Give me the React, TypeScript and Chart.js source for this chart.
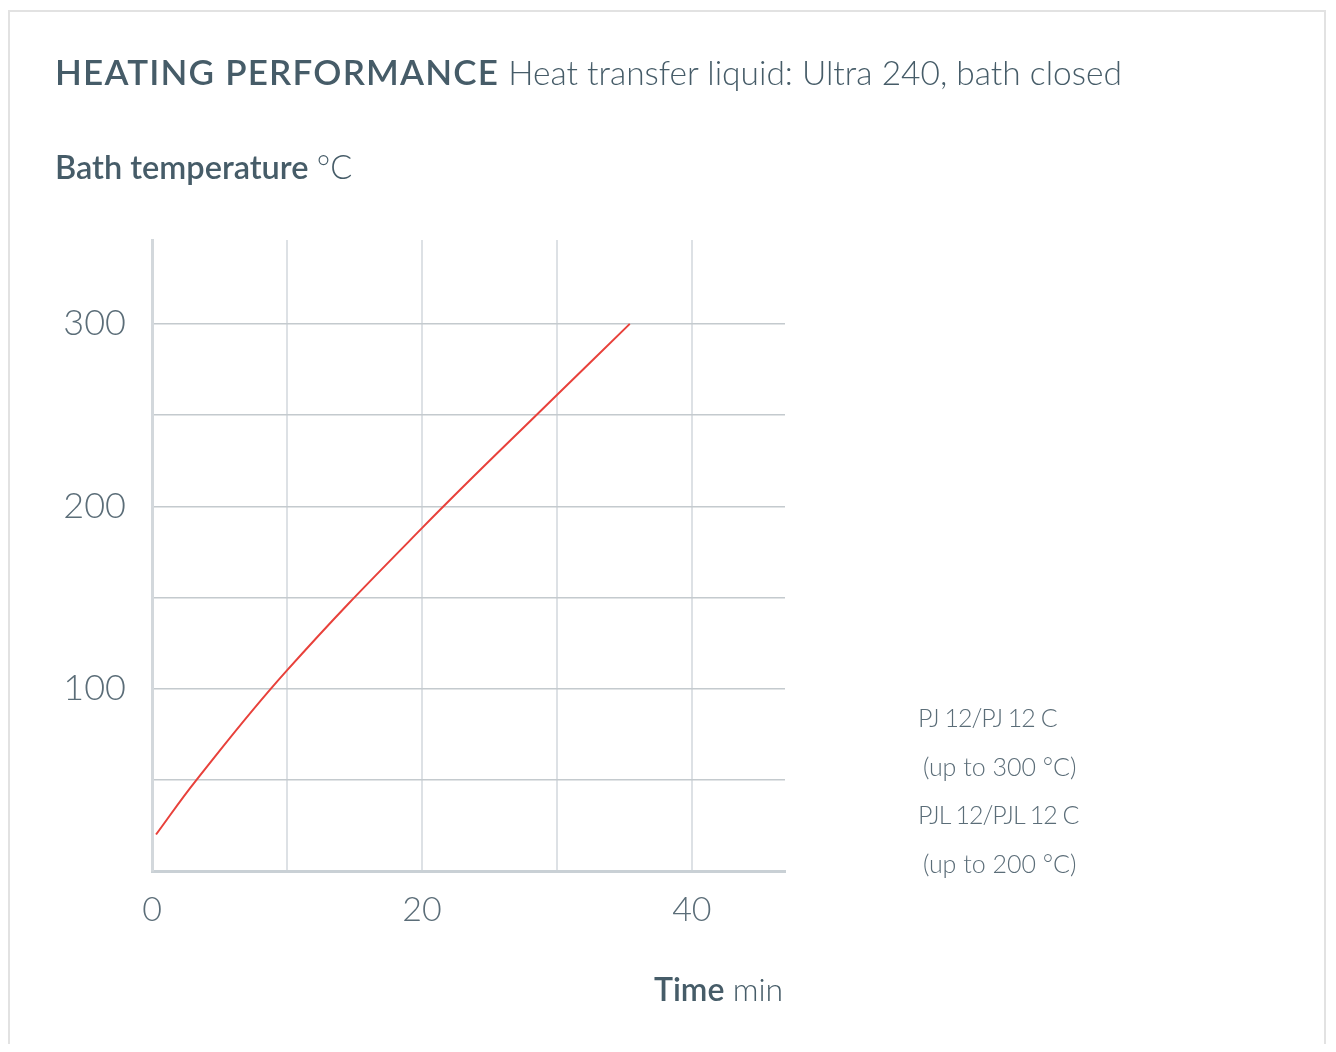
import React, { useEffect, useRef } from "react";
import { Chart, registerables } from "chart.js";

Chart.register(...registerables);

const timeMin = [0.3, 3.3, 10, 20, 30, 35.4];
const bathTemp = [20, 50, 110, 188, 261, 300];
const xTickLabels = [0, 20, 40];
const yTickLabels = [100, 200, 300];
const legendLines = ["PJ 12/PJ 12 C", "(up to 300 °C)", "PJL 12/PJL 12 C", "(up to 200 °C)"];

const TEXT = "#465c68";
const FONT = "Lato, 'Open Sans', sans-serif";

export default function App() {
  const ref = useRef<HTMLCanvasElement | null>(null);

  useEffect(() => {
    if (!ref.current) return;
    const chart = new Chart(ref.current, {
      type: "line",
      data: {
        datasets: [
          {
            data: timeMin.map((t, i) => ({ x: t, y: bathTemp[i] })),
            borderColor: "#e8413b",
            borderWidth: 2,
            pointRadius: 0,
            tension: 0.4,
            fill: false,
          },
        ],
      },
      options: {
        animation: false,
        responsive: false,
        layout: { padding: { left: 0, top: 232, right: 543, bottom: 117 } },
        plugins: { legend: { display: false }, tooltip: { enabled: false } },
        scales: {
          x: {
            type: "linear",
            min: 0,
            max: 46.9,
            afterFit: (s: any) => {
              s.height = 60;
            },
            afterBuildTicks: (s: any) => {
              const t = [];
              for (let v = 0; v <= 46.9; v += 10) t.push({ value: v });
              s.ticks = t;
            },
            ticks: {
              padding: 19,
              color: "#5b6d78",
              font: { family: FONT, size: 34, weight: "300" as any },
              callback: (v: any) => (xTickLabels.includes(Number(v)) ? String(v) : ""),
              maxRotation: 0,
              autoSkip: false,
            },
            grid: { color: "#dde1e5", lineWidth: 2, drawTicks: false },
            border: { color: "#c9d0d5", width: 3 },
          },
          y: {
            type: "linear",
            min: 0,
            max: 346,
            afterFit: (s: any) => {
              s.width = 144;
            },
            afterBuildTicks: (s: any) => {
              const t = [];
              for (let v = 0; v <= 346; v += 50) t.push({ value: v });
              s.ticks = t;
            },
            ticks: {
              padding: 26,
              color: "#5b6d78",
              font: { family: FONT, size: 36, weight: "300" as any },
              callback: (v: any) => (yTickLabels.includes(Number(v)) ? String(v) : ""),
              autoSkip: false,
            },
            grid: { color: "#c4cace", lineWidth: 1.5, drawTicks: false },
            border: { color: "#d3d8dc", width: 3 },
          },
        },
      },
    });
    return () => chart.destroy();
  }, []);

  const abs = (x: number, y: number): React.CSSProperties => ({
    position: "absolute",
    left: x - 8,
    top: y - 8,
    whiteSpace: "nowrap",
    fontFamily: FONT,
    color: TEXT,
    lineHeight: 1,
  });

  return (
    <div style={{ position: "relative", width: 1320, height: 1036 }}>
      <div
        style={{
          position: "absolute",
          left: 0,
          top: 2,
          width: 1318,
          height: 1040,
          border: "2px solid #e2e2e2",
          borderBottom: "none",
          boxSizing: "border-box",
        }}
      />
      <canvas
        ref={ref}
        width={1320}
        height={1040}
        style={{ position: "absolute", left: 0, top: 0, width: 1320, height: 1040 }}
      />
      <div style={{ ...abs(55, 54), fontSize: 35 }}>
        <span style={{ fontWeight: 600, letterSpacing: 1.2 }}>HEATING PERFORMANCE</span>{" "}
        <span style={{ fontWeight: 300, fontSize: 33.5 }}>Heat transfer liquid: Ultra 240, bath closed</span>
      </div>
      <div style={{ ...abs(55, 151), fontSize: 32.5 }}>
        <span style={{ fontWeight: 600 }}>Bath temperature</span>{" "}
        <span style={{ fontWeight: 300 }}>°C</span>
      </div>
      <div style={{ ...abs(654, 973), fontSize: 32 }}>
        <span style={{ fontWeight: 600 }}>Time</span> <span style={{ fontWeight: 300 }}>min</span>
      </div>
      {legendLines.map((l, i) => (
        <div
          key={i}
          style={{
            ...abs(i % 2 === 0 ? 918 : 923, 705 + i * 48.5),
            fontSize: 25,
            fontWeight: 300,
            letterSpacing: i % 2 === 0 ? -1 : 0,
            color: "#5b6d78",
          }}
        >
          {l}
        </div>
      ))}
    </div>
  );
}
